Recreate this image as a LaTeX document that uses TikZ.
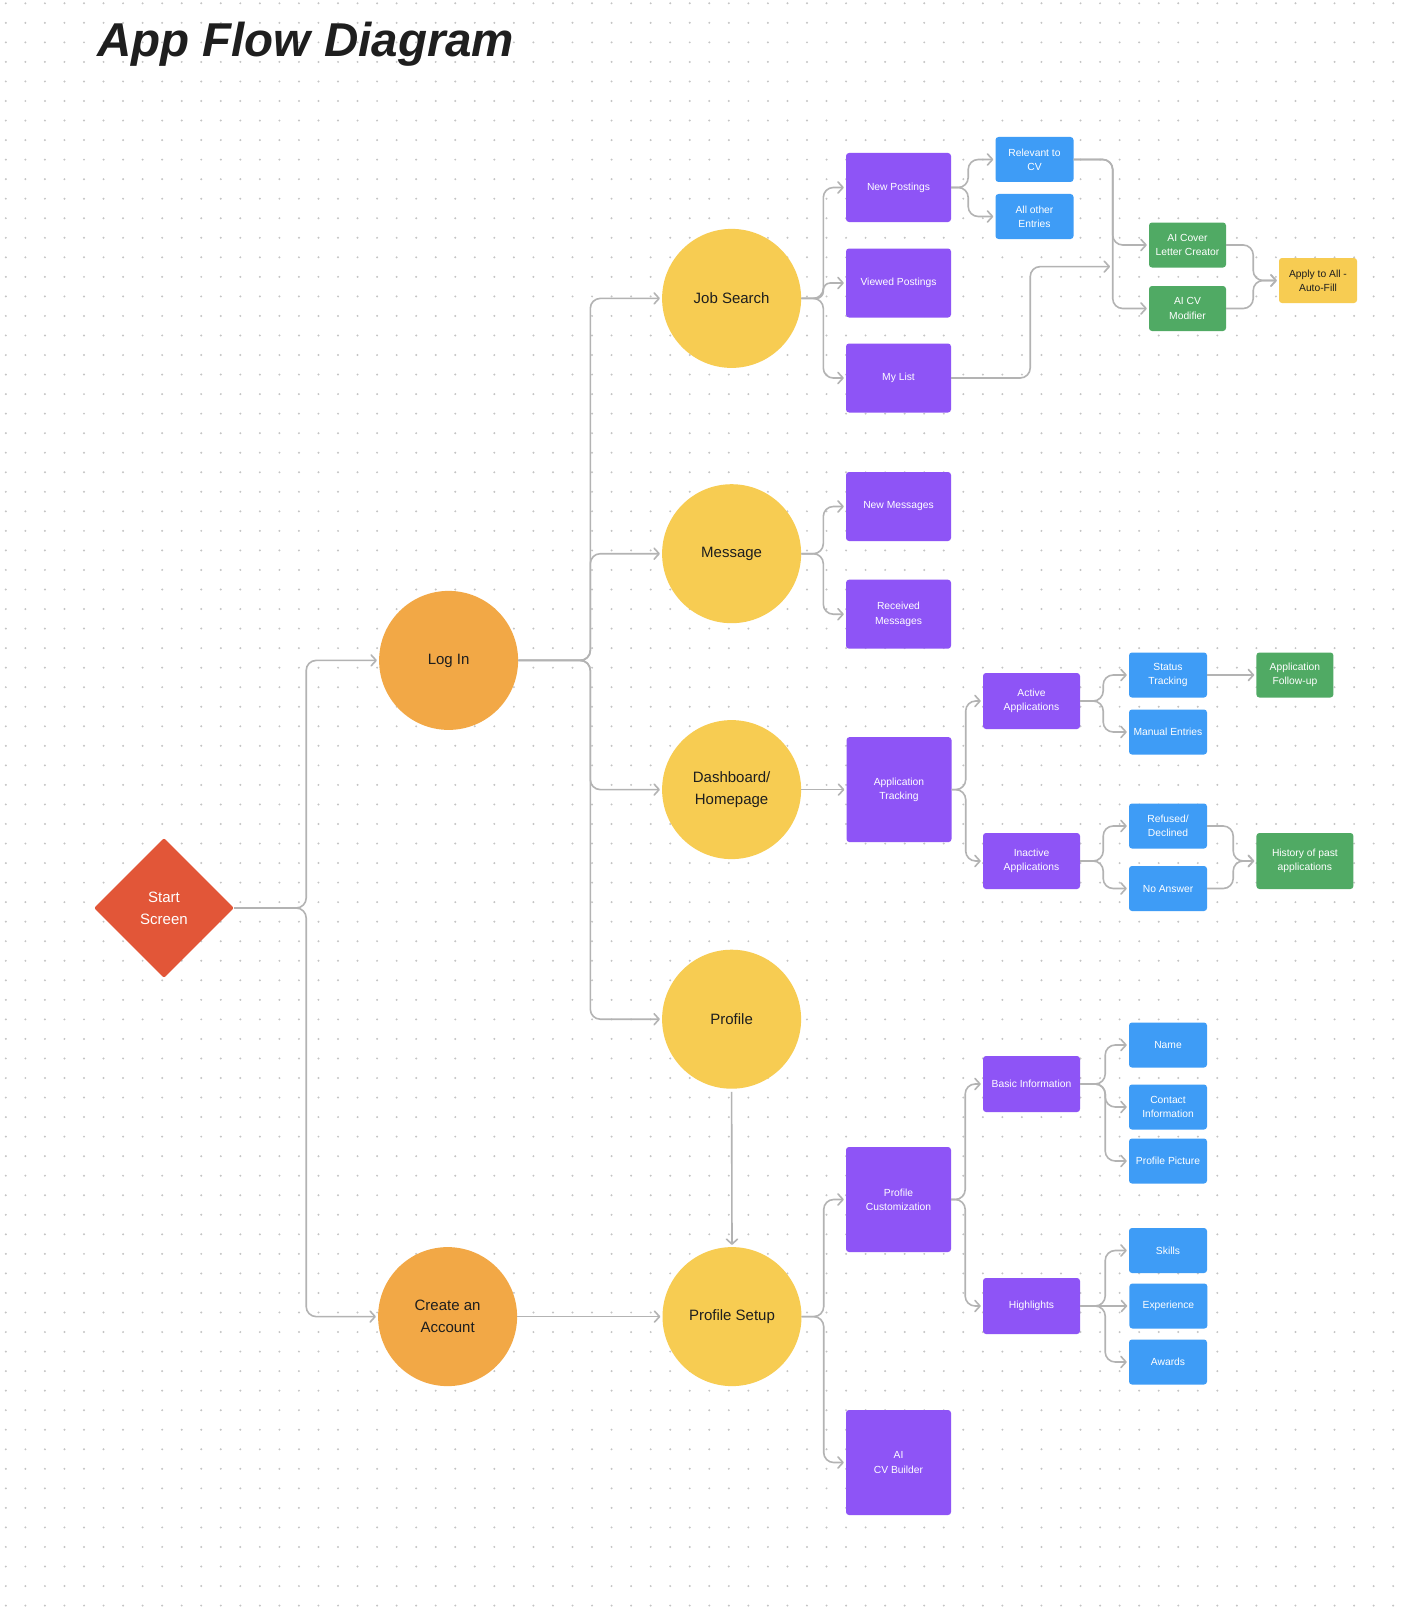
\documentclass[tikz,border=0pt]{standalone}
\usepackage{fontspec}
\setmainfont{Liberation Sans}
\usetikzlibrary{shapes.geometric, positioning, arrows.meta}
\definecolor{startred}{HTML}{E25638}
\definecolor{corange}{HTML}{F2A846}
\definecolor{cyellow}{HTML}{F7CC52}
\definecolor{cpurple}{HTML}{8E54F6}
\definecolor{cblue}{HTML}{3E9CF6}
\definecolor{cgreen}{HTML}{50AA64}
\definecolor{linegray}{HTML}{B3B3B3}
\definecolor{dotgray}{HTML}{C4C4C4}
\definecolor{ink}{HTML}{1E1E1E}
\newcommand{\txtbig}{\fontsize{15}{22}\selectfont}
\newcommand{\txtsmall}{\fontsize{10.3}{14.3}\selectfont}
\tikzstyle{dotrow}=[draw=dotgray, line width=2.2pt, line cap=round, dash pattern=on 0pt off 19.54pt]
\tikzstyle{title}=[inner sep=0pt, text=ink, font=\fontsize{47.5}{50}\selectfont\bfseries\itshape]
\tikzstyle{startscr}=[diamond, align=center, inner sep=0pt, minimum width=140pt, minimum height=140pt, rounded corners=2pt, fill=startred, text=white, font=\txtbig]
\tikzstyle{ocirc}=[circle, align=center, inner sep=0pt, minimum size=139pt, fill=corange, text=ink, font=\txtbig]
\tikzstyle{ycirc}=[circle, align=center, inner sep=0pt, minimum size=139pt, fill=cyellow, text=ink, font=\txtbig]
\tikzstyle{pbox}=[rectangle, rounded corners=3pt, align=center, inner sep=2pt, minimum width=105pt, minimum height=69pt, fill=cpurple, text=white, font=\txtsmall]
\tikzstyle{tall}=[minimum height=105pt]
\tikzstyle{subbox}=[rectangle, rounded corners=3pt, align=center, inner sep=2pt, minimum width=97pt, minimum height=56pt, fill=cpurple, text=white, font=\txtsmall]
\tikzstyle{bluebox}=[rectangle, rounded corners=3pt, align=center, inner sep=2pt, minimum width=78pt, minimum height=45pt, fill=cblue, text=white, font=\txtsmall]
\tikzstyle{greenbox}=[rectangle, rounded corners=3pt, align=center, inner sep=2pt, minimum width=77pt, minimum height=45pt, fill=cgreen, text=white, font=\txtsmall]
\tikzstyle{wide}=[minimum width=97pt, minimum height=56pt]
\tikzstyle{yellowbox}=[rectangle, rounded corners=3pt, align=center, inner sep=2pt, minimum width=78pt, minimum height=45pt, fill=cyellow, text=ink, font=\txtsmall]
\tikzstyle{conn}=[draw=linegray, line width=1.6pt, rounded corners=10pt, shorten >=2pt, -{Straight Barb[length=5pt, width=11pt, round]}]

\begin{document}
\begin{tikzpicture}[x=1pt, y=-1pt]
    \fill [white] (0,0) rectangle (1412,1608);
    \useasboundingbox (0,0) rectangle (1412,1608);
    % dotted canvas
    \foreach \k in {0,...,82}
        \draw [dotrow] (5.84,3.3+19.54*\k) -- (1412,3.3+19.54*\k);

    \node [title, anchor=base west] (title) at (97,57) {App Flow Diagram};

    % entry
    \node [startscr] (start) at (164,908) {Start\\Screen};
    \node [ocirc] (login) at (448.6,660.4) {Log In};
    \node [ocirc] (create) at (447.6,1316.6) {Create an\\Account};
    \draw [conn] (start.east) -- ++(72pt,0) |- (login.west);
    \draw [conn] (start.east) -- ++(72pt,0) |- (create.west);

    % main sections
    \node [ycirc] (jobs) at (731.6,298.4) {Job Search};
    \node [ycirc] (message) at (731.6,553.7) {Message};
    \node [ycirc] (dash) at (731.6,789.6) {Dashboard/\\Homepage};
    \node [ycirc] (profile) at (731.6,1019.2) {Profile};
    \node [ycirc, right = 145pt of create] (psetup) {Profile Setup};
    \draw [conn] (login.east) -- ++(72pt,0) |- (jobs.west);
    \draw [conn] (login.east) -- ++(72pt,0) |- (message.west);
    \draw [conn] (login.east) -- ++(72pt,0) |- (dash.west);
    \draw [conn] (login.east) -- ++(72pt,0) |- (profile.west);
    \draw [conn] (create.east) -- (psetup.west);
    \draw [conn, shorten <=3pt] (profile.south) -- (psetup.north);

    % job search
    \node [pbox] (newpost) at (898.5,187.5) {New Postings};
    \node [pbox] (viewpost) at (898.5,283) {Viewed Postings};
    \node [pbox] (mylist) at (898.5,378) {My List};
    \draw [conn] (jobs.east) -- ++(22pt,0) |- (newpost.west);
    \draw [conn, rounded corners=7pt] (jobs.east) -- ++(22pt,0) |- (viewpost.west);
    \draw [conn] (jobs.east) -- ++(22pt,0) |- (mylist.west);

    \node [bluebox] (relevant) at (1034.5,159.5) {Relevant to\\CV};
    \node [bluebox] (allother) at (1034.5,216.5) {All other\\Entries};
    \draw [conn] (newpost.east) -- ++(17pt,0) |- (relevant.west);
    \draw [conn] (newpost.east) -- ++(17pt,0) |- (allother.west);

    \node [greenbox] (aicover) at (1187.5,245) {AI Cover\\Letter Creator};
    \node [greenbox] (aicv) at (1187.5,308.5) {AI CV\\Modifier};
    \coordinate (merge) at (1112,266.6);
    \draw [conn] (relevant.east) -- ++(39pt,0) |- (aicover.west);
    \draw [conn] (relevant.east) -- ++(39pt,0) |- (aicv.west);
    \draw [conn] (mylist.east) -- ++(79pt,0) |- (merge);

    \node [yellowbox] (apply) at (1318,280.5) {Apply to All -\\Auto-Fill};
    \draw [conn] (aicover.east) -- ++(27pt,0) |- (apply.west);
    \draw [conn] (aicv.east) -- ++(27pt,0) |- (apply.west);

    % message
    \node [pbox] (newmsg) at (898.5,506.5) {New Messages};
    \node [pbox] (recmsg) at (898.5,614.2) {Received\\Messages};
    \draw [conn] (message.east) -- ++(22pt,0) |- (newmsg.west);
    \draw [conn] (message.east) -- ++(22pt,0) |- (recmsg.west);

    % dashboard
    \node [pbox, tall, right = 45pt of dash] (apptrack) {Application\\Tracking};
    \draw [conn] (dash.east) -- (apptrack.west);

    \node [subbox] (active) at (1031.5,701) {Active\\Applications};
    \node [subbox] (inactive) at (1031.5,861) {Inactive\\Applications};
    \draw [conn] (apptrack.east) -- ++(14pt,0) |- (active.west);
    \draw [conn] (apptrack.east) -- ++(14pt,0) |- (inactive.west);

    \node [bluebox] (status) at (1168,675) {Status\\Tracking};
    \node [bluebox] (manual) at (1168,732) {Manual Entries};
    \node [greenbox, right = 49pt of status] (followup) {Application\\Follow-up};
    \draw [conn] (active.east) -- ++(23pt,0) |- (status.west);
    \draw [conn] (active.east) -- ++(23pt,0) |- (manual.west);
    \draw [conn] (status.east) -- (followup.west);

    \node [bluebox] (refused) at (1168,826) {Refused/\\Declined};
    \node [bluebox] (noanswer) at (1168,888.5) {No Answer};
    \node [greenbox, wide, right = 176pt of inactive] (history) {History of past\\applications};
    \draw [conn] (inactive.east) -- ++(23pt,0) |- (refused.west);
    \draw [conn] (inactive.east) -- ++(23pt,0) |- (noanswer.west);
    \draw [conn] (refused.east) -- ++(26pt,0) |- (history.west);
    \draw [conn] (noanswer.east) -- ++(26pt,0) |- (history.west);

    % profile setup
    \node [pbox, tall] (custom) at (898.5,1199.5) {Profile\\Customization};
    \node [pbox, tall] (aibuild) at (898.5,1462.5) {AI\\CV Builder};
    \draw [conn] (psetup.east) -- ++(22pt,0) |- (custom.west);
    \draw [conn] (psetup.east) -- ++(22pt,0) |- (aibuild.west);

    \node [subbox] (basic) at (1031.5,1084) {Basic Information};
    \node [subbox] (highl) at (1031.5,1306) {Highlights};
    \draw [conn] (custom.east) -- ++(14pt,0) |- (basic.west);
    \draw [conn] (custom.east) -- ++(14pt,0) |- (highl.west);

    \node [bluebox] (name) at (1168,1045) {Name};
    \node [bluebox] (contact) at (1168,1107) {Contact\\Information};
    \node [bluebox] (picture) at (1168,1161) {Profile Picture};
    \draw [conn] (basic.east) -- ++(25pt,0) |- (name.west);
    \draw [conn] (basic.east) -- ++(25pt,0) |- (contact.west);
    \draw [conn] (basic.east) -- ++(25pt,0) |- (picture.west);

    \node [bluebox] (skills) at (1168,1250.5) {Skills};
    \node [bluebox, right = 49pt of highl] (exper) {Experience};
    \node [bluebox] (awards) at (1168,1362) {Awards};
    \draw [conn] (highl.east) -- ++(25pt,0) |- (skills.west);
    \draw [conn] (highl.east) -- (exper.west);
    \draw [conn] (highl.east) -- ++(25pt,0) |- (awards.west);
\end{tikzpicture}
\end{document}
